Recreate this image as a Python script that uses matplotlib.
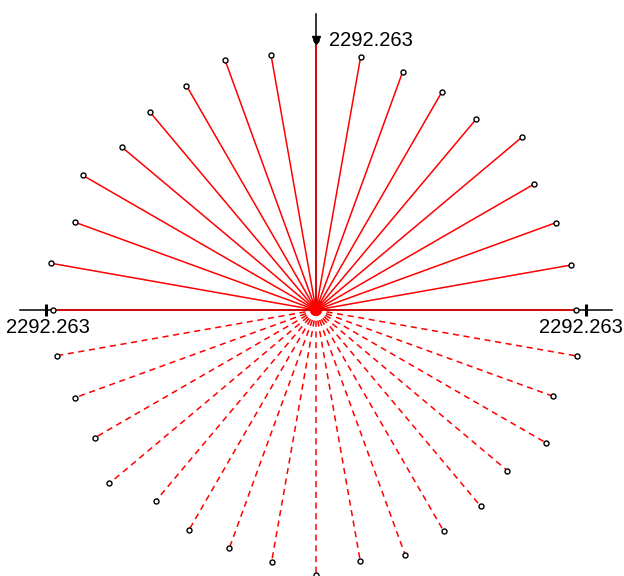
import matplotlib.pyplot as plt
import numpy as np

# axis maximum shown on the three axis labels
axis_max = 2292.263
axis_label = "2292.263"

# upper half (solid), angle in degrees
angles_upper = [0, 10, 20, 30, 40, 50, 60, 70, 80, 90,
                100, 110, 120, 130, 140, 150, 160, 170, 180]
radius_upper = [2207, 2199, 2165, 2139, 2284, 2114, 2139, 2148, 2182, 2292,
                2199, 2258, 2199, 2199, 2148, 2284, 2173, 2284, 2233]

# lower half (dashed)
angles_lower = [190, 200, 210, 220, 230, 240, 250, 260, 270,
                280, 290, 300, 310, 320, 330, 340, 350]
radius_lower = [2233, 2173, 2165, 2291, 2114, 2156, 2148, 2173, 2250,
                2165, 2216, 2165, 2173, 2122, 2250, 2139, 2250]

plt.rcParams["font.family"] = ["Liberation Sans", "DejaVu Sans"]

fig = plt.figure(figsize=(6.24, 5.76), dpi=100)
ax = fig.add_axes([0, 0, 1, 1])
ax.set_axis_off()

k = axis_max / 270.0          # data units per pixel
ax.set_xlim(-316 * k, 308 * k)
ax.set_ylim(-266 * k, 310 * k)

# --- black axes ----------------------------------------------------------
ext = axis_max * 1.095
ax.plot([-ext, ext], [0, 0], color="black", lw=1.1, zorder=1)
ax.plot([0, 0], [0, ext], color="black", lw=1.1, zorder=1)
ax.plot([-axis_max, axis_max], [0, 0], "|", color="black", ms=8, mew=2.2, zorder=4)
ax.plot([0], [axis_max], "v", color="black", ms=6, zorder=4)


def spokes(angles, radii, ls):
    th = np.deg2rad(angles)
    xs = np.array(radii) * np.cos(th)
    ys = np.array(radii) * np.sin(th)
    for x, y in zip(xs, ys):
        ax.plot([0, x], [0, y], color="red", lw=1.1, ls=ls, zorder=2)
    ax.plot(xs, ys, "o", ms=3.6, mfc="white", mec="black", mew=1.0, zorder=3)


spokes(angles_upper, radius_upper, "-")
spokes(angles_lower, radius_lower, (0, (4, 3)))

ax.plot([0], [4 * k], "s", color="red", ms=7, zorder=2)

# --- labels ---------------------------------------------------------------
fs = 14.5
ax.text(13 * k, axis_max, axis_label, fontsize=fs, ha="left", va="center")
ax.text(-axis_max + 2 * k, -8 * k, axis_label, fontsize=fs, ha="center", va="top")
ax.text(axis_max - 5 * k, -8 * k, axis_label, fontsize=fs, ha="center", va="top")

fig.savefig("out.png", dpi=100)
